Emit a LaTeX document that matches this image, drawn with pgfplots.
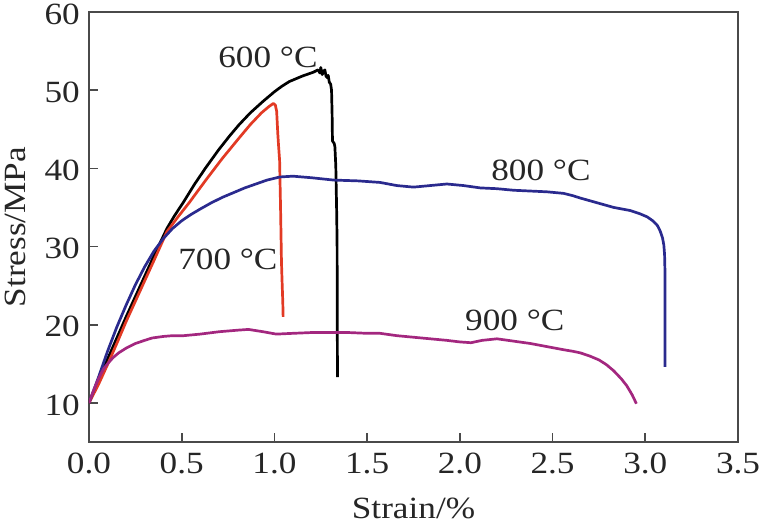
\documentclass[border=0pt]{standalone}
\usepackage{pgfplots}
\pgfplotsset{compat=1.18}
\usepackage{fontspec}
\setmainfont[FakeStretch=1.14]{Liberation Serif}
\definecolor{cred}{HTML}{E23A24}
\definecolor{cblue}{HTML}{2A2A8E}
\definecolor{cmag}{HTML}{A3277F}
\definecolor{axgray}{HTML}{4A4A4A}
\newcommand{\lbl}{\fontsize{31}{36}\selectfont}
\begin{document}
\begin{tikzpicture}
\begin{axis}[
  name=ax,
  scale only axis,
  width=649bp, height=430bp,
  xmin=0, xmax=3.5, ymin=5, ymax=60,
  xtick={0,0.5,...,3.5},
  ytick={10,20,...,60},
  xticklabel style={/pgf/number format/fixed,/pgf/number format/precision=1,/pgf/number format/fixed zerofill, inner sep=0pt, anchor=north, yshift=-11bp},
  yticklabel style={inner sep=0pt, anchor=east, xshift=-9bp, yshift=-2bp},
  /pgf/number format/assume math mode=true,
  tick label style={font=\lbl, text=black!85},
  label style={font=\lbl, text=black!85},
  tick align=inside,
  major tick length=9bp,
  xtick pos=bottom, ytick pos=left,
  axis line style={axgray, line width=1.6bp},
  tick style={axgray, line width=1.6bp},
  xlabel={Strain/\%},
  ylabel={Stress/MPa},
  xlabel style={at={(axis description cs:0.5,0)}, anchor=north, inner sep=0pt, yshift=-56bp},
  ylabel style={at={(axis description cs:-0.114,0.5)}, anchor=center, inner sep=0pt},
  every axis plot/.append style={line width=2.7bp, line join=round},
]
% 600 C
\addplot[black, mark=none] coordinates {
(0,10) (0.05,12.8) (0.10,15.6) (0.15,18.3) (0.20,21.0) (0.25,23.6) (0.30,26.2) (0.35,28.8)
(0.42,32.3) (0.46,33.9) (0.51,35.7) (0.57,38.0) (0.63,40.1) (0.70,42.4) (0.76,44.2) (0.81,45.6) (0.87,47.1) (0.94,48.6)
(1.00,49.8) (1.04,50.5) (1.08,51.1) (1.15,51.8) (1.21,52.3) (1.235,52.6) (1.245,52.2) (1.25,52.9) (1.258,52.0)
(1.265,52.4) (1.272,52.6) (1.278,51.8) (1.285,51.6) (1.29,51.9) (1.296,51.0) (1.303,50.8) (1.308,50.0)
(1.311,47.0) (1.313,43.5) (1.322,43.2) (1.326,42.8) (1.331,40.3) (1.336,34.0) (1.338,30.0) (1.339,20.0) (1.34,13.3)
};
% 700 C
\addplot[cred, mark=none] coordinates {
(0,10) (0.05,12.3) (0.10,14.9) (0.15,17.6) (0.20,20.4) (0.25,23.0) (0.30,25.6) (0.35,28.2)
(0.42,31.9) (0.48,33.8) (0.54,35.6) (0.63,38.5) (0.72,41.3) (0.81,43.9) (0.87,45.6) (0.93,47.1)
(0.97,47.9) (0.994,48.3) (1.005,48.1) (1.012,47.3) (1.018,44.5) (1.022,43.0) (1.028,41.0)
(1.033,35.0) (1.038,28.0) (1.042,25.0) (1.045,23.0) (1.047,21.0)
};
% 800 C
\addplot[cblue, mark=none] coordinates {
(0,10) (0.05,13.2) (0.10,16.6) (0.15,19.7) (0.20,22.5) (0.25,25.1) (0.30,27.4) (0.35,29.4)
(0.40,31.0) (0.45,32.3) (0.50,33.3) (0.55,34.1) (0.60,34.8) (0.66,35.6) (0.72,36.3) (0.78,36.9) (0.84,37.5) (0.90,38.0) (0.96,38.5) (1.03,38.9)
(1.10,39.0) (1.20,38.8) (1.32,38.5) (1.45,38.4) (1.57,38.2) (1.66,37.8) (1.75,37.6) (1.84,37.8)
(1.93,38.0) (2.02,37.8) (2.11,37.5) (2.20,37.4) (2.29,37.2) (2.38,37.1) (2.47,37.0) (2.56,36.8)
(2.61,36.5) (2.65,36.2) (2.74,35.6) (2.83,35.0) (2.92,34.6) (2.97,34.2) (3.01,33.8) (3.04,33.3) (3.065,32.7) (3.08,32.0) (3.093,31.1)
(3.10,30.2) (3.104,29.0) (3.106,27.0) (3.106,20.0) (3.106,14.6)
};
% 900 C
\addplot[cmag, mark=none] coordinates {
(0,10) (0.02,11.3) (0.04,12.5) (0.06,13.5) (0.08,14.4) (0.10,15.0) (0.13,15.8) (0.16,16.4)
(0.20,17.0) (0.25,17.6) (0.30,18.0) (0.34,18.3) (0.40,18.5) (0.45,18.6) (0.51,18.6) (0.6,18.8) (0.7,19.1) (0.8,19.3) (0.86,19.4)
(0.94,19.1) (1.01,18.8) (1.1,18.9) (1.2,19.0) (1.3,19.0) (1.4,19.0) (1.5,18.9) (1.57,18.9)
(1.66,18.6) (1.75,18.4) (1.84,18.2) (1.93,18.0) (2.00,17.8) (2.06,17.7) (2.12,18.0) (2.2,18.2)
(2.29,17.9) (2.38,17.6) (2.47,17.2) (2.56,16.8) (2.61,16.6) (2.65,16.4) (2.70,16.0) (2.75,15.5) (2.79,14.9) (2.83,14.1)
(2.87,13.1) (2.90,12.2) (2.93,11.0) (2.952,9.9)
};
\node[font=\lbl, text=black!85, inner sep=0pt] at (axis cs:0.965,54.2) {600 °C};
\node[font=\lbl, text=black!85, inner sep=0pt] at (axis cs:0.749,28.3) {700 °C};
\node[font=\lbl, text=black!85, inner sep=0pt] at (axis cs:2.437,39.8) {800 °C};
\node[font=\lbl, text=black!85, inner sep=0pt] at (axis cs:2.296,20.6) {900 °C};
\end{axis}
\pgfresetboundingbox
\path[use as bounding box] ([xshift=-89bp,yshift=-80bp]ax.south west) rectangle ([xshift=23bp,yshift=12bp]ax.north east);
\end{tikzpicture}
\end{document}
